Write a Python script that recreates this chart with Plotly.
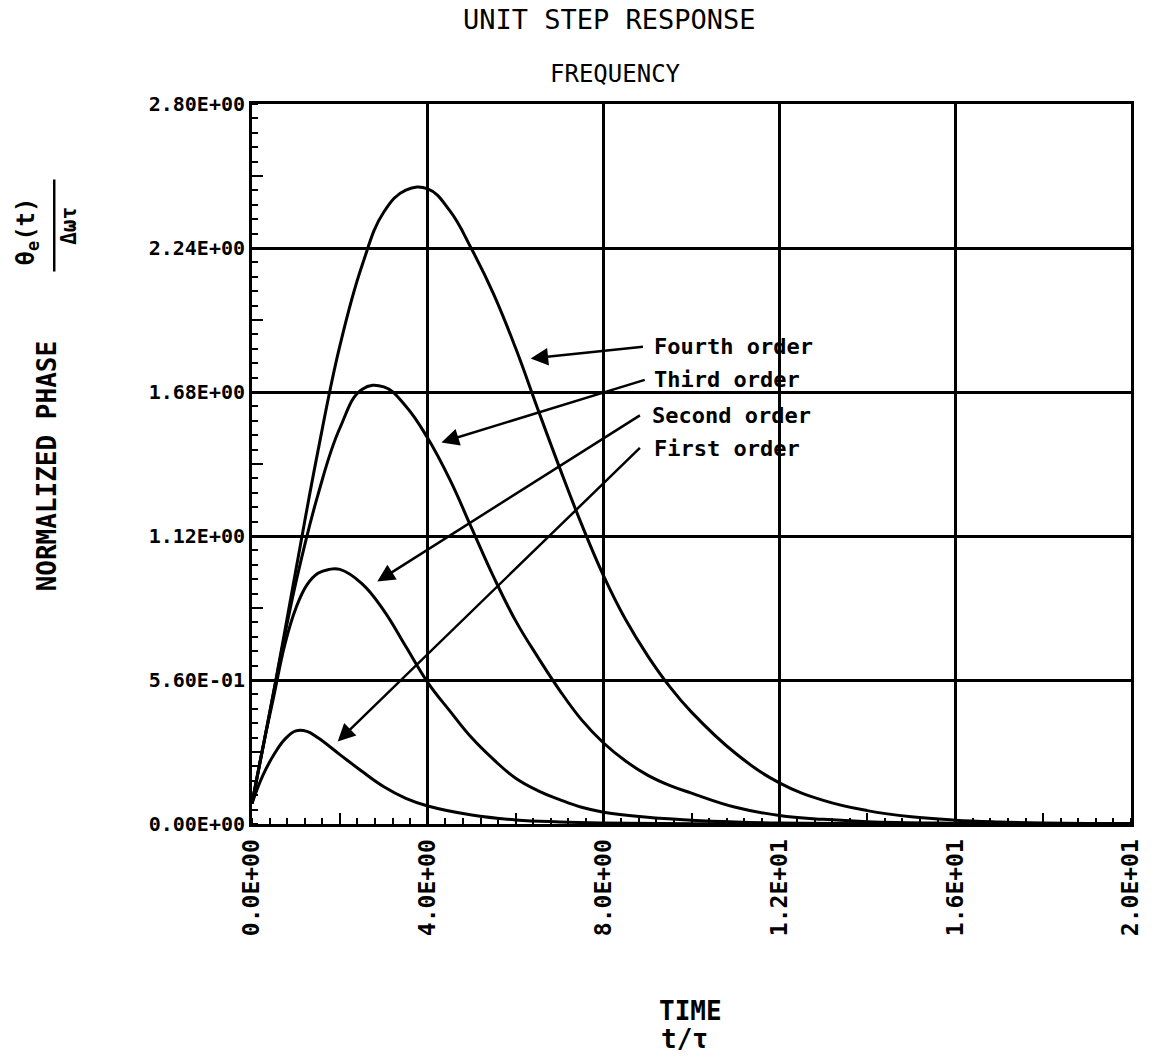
import plotly.graph_objects as go

# ---------------- data ----------------
t_first = [0, 0.25, 0.5, 0.75, 1.0, 1.25, 1.5, 2.0, 2.5, 3.0, 3.5, 4.0, 5.0, 6.0, 7.0, 8.0, 10.0, 14.0, 20.0]
v_first = [0.08, 0.19, 0.27, 0.33, 0.362, 0.36, 0.335, 0.27, 0.205, 0.145, 0.10, 0.07, 0.035, 0.016, 0.008, 0.004, 0.001, 0.0, 0.0]

t_second = [0, 0.25, 0.5, 0.75, 1.0, 1.25, 1.5, 1.75, 2.0, 2.5, 3.0, 3.5, 4.0, 4.5, 5.0, 5.5, 6.0, 6.5, 7.0, 7.5, 8.0, 9.0, 10.0, 11.0, 12.0, 14.0, 20.0]
v_second = [0.08, 0.30, 0.50, 0.70, 0.84, 0.93, 0.975, 0.99, 0.99, 0.935, 0.83, 0.69, 0.55, 0.44, 0.335, 0.25, 0.178, 0.13, 0.095, 0.065, 0.046, 0.026, 0.015, 0.008, 0.004, 0.001, 0.0]

t_third = [0, 0.5, 1.0, 1.5, 2.0, 2.5, 3.0, 3.5, 4.0, 4.5, 5.0, 5.5, 6.0, 6.5, 7.0, 7.5, 8.0, 8.5, 9.0, 9.5, 10.0, 11.0, 12.0, 13.0, 14.0, 16.0, 18.0, 20.0]
v_third = [0.08, 0.52, 0.94, 1.28, 1.54, 1.69, 1.70, 1.625, 1.50, 1.34, 1.15, 0.96, 0.79, 0.65, 0.52, 0.405, 0.315, 0.245, 0.19, 0.15, 0.12, 0.065, 0.033, 0.018, 0.009, 0.003, 0.001, 0.0]

t_fourth = [0, 0.5, 1.0, 1.5, 2.0, 2.5, 3.0, 3.5, 4.0, 4.5, 5.0, 5.5, 6.0, 6.5, 7.0, 7.5, 8.0, 8.5, 9.0, 9.5, 10.0, 11.0, 12.0, 13.0, 14.0, 15.0, 16.0, 17.0, 18.0, 19.0, 20.0]
v_fourth = [0.08, 0.52, 0.99, 1.45, 1.86, 2.17, 2.38, 2.465, 2.47, 2.385, 2.235, 2.06, 1.85, 1.615, 1.385, 1.165, 0.965, 0.795, 0.655, 0.535, 0.435, 0.275, 0.16, 0.092, 0.052, 0.028, 0.015, 0.008, 0.004, 0.002, 0.001]

x_tickvals = [0, 4, 8, 12, 16, 20]
x_ticktext = ["0.0E+00", "4.0E+00", "8.0E+00", "1.2E+01", "1.6E+01", "2.0E+01"]
y_tickvals = [0, 0.56, 1.12, 1.68, 2.24, 2.8]
y_ticktext = ["0.00E+00", "5.60E-01", "1.12E+00", "1.68E+00", "2.24E+00", "2.80E+00"]

labels = ["Fourth order", "Third order", "Second order", "First order"]
# ---------------------------------------------------------------

FONT = "DejaVu Sans Mono"
fig = go.Figure()

for tt, vv in [(t_first, v_first), (t_second, v_second), (t_third, v_third), (t_fourth, v_fourth)]:
    fig.add_trace(go.Scatter(x=tt, y=vv, mode="lines",
                             line=dict(color="black", width=3, shape="spline", smoothing=1.2),
                             hoverinfo="skip", showlegend=False))

# dummy trace for the overlay axes carrying the medium ticks
fig.add_trace(go.Scatter(x=[None], y=[None], xaxis="x2", yaxis="y2", mode="lines",
                         showlegend=False, hoverinfo="skip"))

axis_common = dict(showline=True, linecolor="black", linewidth=3, mirror=True,
                   showgrid=True, gridcolor="black", gridwidth=2.5, zeroline=False,
                   ticks="", tickmode="array")

fig.update_layout(
    width=1155, height=1060,
    margin=dict(l=252, r=16, t=104, b=236),
    paper_bgcolor="white", plot_bgcolor="white",
    showlegend=False,
    xaxis=dict(range=[0, 20], tickvals=x_tickvals, ticktext=x_ticktext, tickangle=-90,
               tickfont=dict(family=FONT, size=23, color="black", weight="bold"),
               ticklabelstandoff=3,
               minor=dict(ticks="inside", tickmode="linear", tick0=0, dtick=0.4,
                          ticklen=6, tickwidth=2, tickcolor="black", showgrid=False),
               **axis_common),
    yaxis=dict(range=[0, 2.8], tickvals=y_tickvals, ticktext=y_ticktext,
               tickfont=dict(family=FONT, size=20, color="black", weight="bold"),
               ticklabelstandoff=0,
               minor=dict(ticks="inside", tickmode="linear", tick0=0, dtick=0.056,
                          ticklen=6, tickwidth=2, tickcolor="black", showgrid=False),
               **axis_common),
    xaxis2=dict(range=[0, 20], overlaying="x", anchor="y2", side="bottom",
                tickmode="linear", tick0=0, dtick=2, ticks="inside", ticklen=11,
                tickwidth=2, tickcolor="black", showticklabels=False,
                showgrid=False, showline=False, zeroline=False),
    yaxis2=dict(range=[0, 2.8], overlaying="y", anchor="x2", side="left",
                tickmode="linear", tick0=0, dtick=0.28, ticks="inside", ticklen=11,
                tickwidth=2, tickcolor="black", showticklabels=False,
                showgrid=False, showline=False, zeroline=False),
)

# arrow pointers (tip, tail) and label anchor, in data coordinates
arrow_tips = [(6.34, 1.81), (4.31, 1.484), (2.85, 0.943), (1.95, 0.321)]
arrow_tails = [(8.93, 1.857), (8.97, 1.729), (8.86, 1.593), (8.86, 1.468)]
label_pos = [(9.09, 1.857), (9.09, 1.729), (9.06, 1.589), (9.09, 1.461)]

for lab, tip, tail, lp in zip(labels, arrow_tips, arrow_tails, label_pos):
    fig.add_annotation(x=tip[0], y=tip[1], ax=tail[0], ay=tail[1], xref="x", yref="y",
                       axref="x", ayref="y", text="", showarrow=True,
                       arrowhead=2, arrowsize=1.4, arrowwidth=2.5, arrowcolor="black",
                       standoff=0, startstandoff=0)
    fig.add_annotation(x=lp[0], y=lp[1], xref="x", yref="y", text=lab, showarrow=False,
                       xanchor="left", yanchor="middle",
                       font=dict(family=FONT, size=22, color="black", weight="bold"))


def paper_text(x, y, text, size, angle=0, bold=True):
    fig.add_annotation(x=x, y=y, xref="paper", yref="paper", text=text, showarrow=False,
                       xanchor="center", yanchor="middle", textangle=angle,
                       font=dict(family=FONT, size=size, color="black",
                                 weight="bold" if bold else "normal"))


# titles
paper_text(0.407, 1.117, "UNIT STEP RESPONSE", 27, bold=False)
paper_text(0.414, 1.041, "FREQUENCY", 24, bold=False)

# x axis title
paper_text(0.4994, -0.260, "TIME", 26)
paper_text(0.4915, -0.299, "t/τ", 26)

# y axis title
paper_text(-0.233, 0.497, "NORMALIZED PHASE", 26, angle=-90)
paper_text(-0.256, 0.823, "θ<sub>e</sub>(t)", 24, angle=-90)
paper_text(-0.208, 0.831, "Δωτ", 21, angle=-90)
fig.add_shape(type="line", xref="paper", yref="paper", x0=-0.225, x1=-0.225,
              y0=(824.5 - 272) / 720, y1=(824.5 - 180) / 720,
              line=dict(color="black", width=2.5))

fig.write_html("out.html")
